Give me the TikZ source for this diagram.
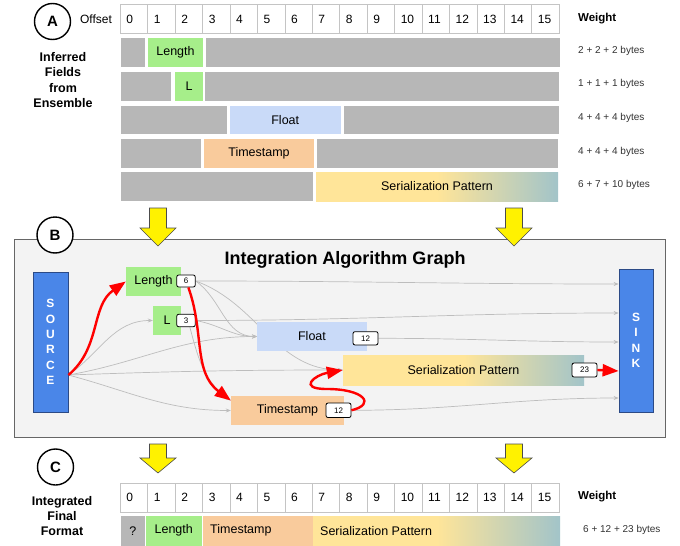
\documentclass[tikz,border=0pt]{standalone}
\usepackage{fontspec}
\setmainfont{Liberation Sans}
\usetikzlibrary{arrows.meta}

\definecolor{blockgray}{HTML}{B7B7B7}
\definecolor{fieldgreen}{HTML}{A6EE8A}
\definecolor{floatblue}{HTML}{C9DAF8}
\definecolor{stamporange}{HTML}{F9CB9C}
\definecolor{serialyellow}{HTML}{FFE599}
\definecolor{serialteal}{HTML}{A2C4C9}
\definecolor{termblue}{HTML}{4A86E8}
\definecolor{termedge}{HTML}{2B4A86}
\definecolor{panelgray}{HTML}{F3F3F3}
\definecolor{panelline}{HTML}{666666}
\definecolor{cellline}{HTML}{C4C4C4}
\definecolor{wiregray}{HTML}{BDBDBD}

\pgfdeclarehorizontalshading{serialshade}{100bp}{color(0bp)=(serialyellow); color(25bp)=(serialyellow); color(50bp)=(serialyellow); color(75bp)=(serialteal); color(100bp)=(serialteal)}

\pgfdeclarelayer{panel}
\pgfdeclarelayer{wires}
\pgfsetlayers{panel,wires,main}

\tikzset{
  cell/.style={draw=cellline, line width=0.9pt, fill=white, text width=15.43pt, inner xsep=6pt, inner ysep=0pt, minimum height=28.6pt, align=left, font=\fontsize{12}{14}\selectfont},
  txt/.style={inner sep=0pt, text=black, font=\fontsize{12.5}{15}\selectfont},
  wt/.style={anchor=west, inner sep=0pt, text=black!80, font=\fontsize{10}{12}\selectfont},
  head/.style={anchor=west, inner sep=0pt, font=\bfseries\fontsize{11.5}{14}\selectfont},
  side/.style={align=center, inner sep=0pt, font=\bfseries\fontsize{12.5}{15.4}\selectfont},
  circ/.style={draw, circle, line width=1.4pt, fill=white, minimum size=36pt, inner sep=0pt, font=\bfseries\fontsize{15}{15}\selectfont},
  yarrow/.style={draw=black!70, fill=yellow, line width=0.6pt, line join=miter},
  fld/.style={inner sep=0pt, minimum height=28.5pt, font=\fontsize{12.5}{15}\selectfont},
  badge/.style={draw, fill=white, rounded corners=2pt, line width=0.8pt, inner sep=0pt, minimum height=13pt, font=\fontsize{8}{9}\selectfont},
  term/.style={draw=termedge, fill=termblue, line width=0.8pt, text=white, align=center, inner sep=0pt, font=\bfseries\fontsize{12}{15.4}\selectfont},
  wire/.style={draw=wiregray, line width=0.7pt, -{Stealth[length=5pt,width=4pt]}},
  hot/.style={draw=red, line width=2.4pt, -{Triangle[length=16pt,width=12pt]}},
}

% grosse fleche jaune vers le bas : x, haut, col, pointe
\newcommand{\yelarrow}[4]{\draw[yarrow] (#1-8.5,#2) -- (#1+8.5,#2) -- (#1+8.5,#3) -- (#1+18,#3) -- (#1,#4) -- (#1-18,#3) -- (#1-8.5,#3) -- cycle;}

\begin{document}
\begin{tikzpicture}[x=1pt,y=1pt]
\useasboundingbox (0,0) rectangle (680,-546);

% Partie A : en-tete
\node[circ] (ca) at (52.5,-21.5) {A};
\node[txt, font=\fontsize{12}{14}\selectfont] (offa) at (96,-19) {Offset};
\foreach \i in {0,...,15}
  \node[cell] (oa\i) at ({134.2+27.43*\i},-19) {\i};
\node[head] (wa) at (578,-19) {Weight};
\node[side] (inf) at (63,-80) {Inferred\\Fields\\from\\Ensemble};

% Champs inferes
\fill[fill=blockgray] (120.5,-38) rectangle (145,-66.5);
\fill[fill=fieldgreen] (148,-38) rectangle node[txt] (fa1) {Length} (203,-66.5);
\fill[fill=blockgray] (206,-38) rectangle (559.5,-66.5);
\node[wt] (wa1) at (578,-51) {2 + 2 + 2 bytes};

\fill[fill=blockgray] (120.5,-72) rectangle (171,-100.5);
\fill[fill=fieldgreen] (175,-72) rectangle node[txt] (fa2) {L} (203,-100.5);
\fill[fill=blockgray] (205,-72) rectangle (559,-100.5);
\node[wt] (wa2) at (578,-84) {1 + 1 + 1 bytes};

\fill[fill=blockgray] (120.5,-105.5) rectangle (227,-134);
\fill[fill=floatblue] (230,-105.5) rectangle node[txt] (fa3) {Float} (340.5,-134);
\fill[fill=blockgray] (344,-105.5) rectangle (559,-134);
\node[wt] (wa3) at (578,-118) {4 + 4 + 4 bytes};

\fill[fill=blockgray] (120.5,-139) rectangle (201,-167.5);
\fill[fill=stamporange] (204,-139) rectangle node[txt] (fa4) {Timestamp} (314,-167.5);
\fill[fill=blockgray] (317,-139) rectangle (558,-167.5);
\node[wt] (wa4) at (578,-152) {4 + 4 + 4 bytes};

\fill[fill=blockgray] (120.5,-172) rectangle (313,-201);
\shade[shading=serialshade] (316,-172) rectangle node[txt] (fa5) {Serialization Pattern} (558,-201);
\node[wt] (wa5) at (578,-185) {6 + 7 + 10 bytes};

% Partie B : cadre
\begin{pgfonlayer}{panel}
\draw[fill=panelgray, draw=panelline, line width=1pt] (14,-239) rectangle (665,-437);
\end{pgfonlayer}
\yelarrow{158}{-208}{-228}{-246}
\yelarrow{514}{-208}{-228}{-246}
\node[circ] (cb) at (55,-235) {B};
\node[inner sep=0pt, font=\bfseries\fontsize{18}{20}\selectfont] (titre) at (345,-260) {Integration Algorithm Graph};

% Source et puits
\node[term, minimum width=35pt, minimum height=140pt] (src) at (50.5,-342) {S\\O\\U\\R\\C\\E};
\node[term, minimum width=34pt, minimum height=143pt] (snk) at (636,-340.5) {S\\I\\N\\K};

% Sommets du graphe
\node[fld, fill=fieldgreen, minimum width=55pt] (len) at (153.5,-281.5) {Length};
\node[badge, minimum width=18.5pt, minimum height=12pt] (b6) at (186,-281) {6};
\node[fld, fill=fieldgreen, minimum width=28pt] (l) at (167,-320.5) {L};
\node[badge, minimum width=18.5pt, minimum height=12.5pt] (b3) at (186,-320.5) {3};
\node[fld, fill=floatblue, minimum width=109.5pt, minimum height=28.7pt] (flt) at (312,-336.5) {Float};
\node[badge, minimum width=25pt, minimum height=13.3pt] (bf) at (365.5,-338.3) {12};
\node[fld, shading=serialshade, minimum width=241pt, minimum height=30pt] (ser) at (463.5,-370) {Serialization Pattern};
\node[badge, minimum width=25pt, minimum height=14pt] (b23) at (584.5,-370) {23};
\node[fld, fill=stamporange, minimum width=113pt, minimum height=29.5pt] (ts) at (287.5,-410.5) {Timestamp};
\node[badge, minimum width=25pt, minimum height=14.5pt] (bt) at (338.5,-410.3) {12};

% Points d'entree et de sortie
\coordinate (so) at ([yshift=-33pt]src.east);
\coordinate (k1) at ([yshift=56.5pt]snk.west);
\coordinate (k2) at ([yshift=27.5pt]snk.west);
\coordinate (k3) at ([yshift=-1.5pt]snk.west);
\coordinate (k4) at ([yshift=-30.5pt]snk.west);
\coordinate (k5) at ([yshift=-57.5pt]snk.west);
\coordinate (lp) at (327,-389);

% Arcs gris
\begin{pgfonlayer}{wires}
\draw[wire] (so) to[out=35,in=180] (l.west);
\draw[wire] (so) to[out=10,in=180] (flt.west);
\draw[wire] (so) to[out=2,in=180] (ser.west);
\draw[wire] (so) to[out=-15,in=180] (ts.west);
\draw[wire] (b6.east) to[out=0,in=180] (k1);
\draw[wire] (b6.east) to[out=-35,in=180] (flt.west);
\draw[wire] (b6.east) to[out=-20,in=180] (ser.west);
\draw[wire] (b3.east) to[out=0,in=180] (k2);
\draw[wire] (b3.east) to[out=-10,in=180] (flt.west);
\draw[wire] (b3.-60) to[out=-75,in=145] (ts.170);
\draw[wire] (bf.east) to[out=0,in=180] (k3);
\draw[wire] (bt.east) to[out=0,in=180] (k5);
\end{pgfonlayer}

% Chemin retenu
\draw[hot] (so) to[out=40,in=215] (len.west);
\draw[hot] (b6.-70) to[out=-70,in=143] (ts.170);
\draw[hot] (bt.east) .. controls +(25,6) and +(37,0) .. (lp) .. controls +(-30,0) and +(-28,-5) .. (ser.west);
\draw[hot] (b23.east) -- (k4);

% Partie C : format final
\node[circ] (cc) at (55.5,-467) {C};
\node[side] (intg) at (62,-516) {Integrated\\Final\\Format};
\yelarrow{158}{-444}{-458}{-473}
\yelarrow{514}{-444}{-458}{-473}
\foreach \i in {0,...,15}
  \node[cell, minimum height=29pt] (oc\i) at ({134.2+27.43*\i},-497.5) {\i};
\node[head] (wc) at (578,-497) {Weight};

\fill[fill=blockgray] (120.5,-516) rectangle node[txt] (fq) {?} (145,-545.5);
\fill[fill=fieldgreen] (146,-516) rectangle node[txt] (fc1) {Length} (201.5,-545.5);
\fill[fill=stamporange] (203,-516) rectangle (313,-545.5);
\node[txt, anchor=west] (fc2) at (210,-530.75) {Timestamp};
\shade[shading=serialshade] (313,-516) rectangle (560,-545.5);
\node[txt, anchor=west] (fc3) at (320,-530.75) {Serialization Pattern};
\node[wt] (wc1) at (583,-530) {6 + 12 + 23 bytes};

\end{tikzpicture}
\end{document}
